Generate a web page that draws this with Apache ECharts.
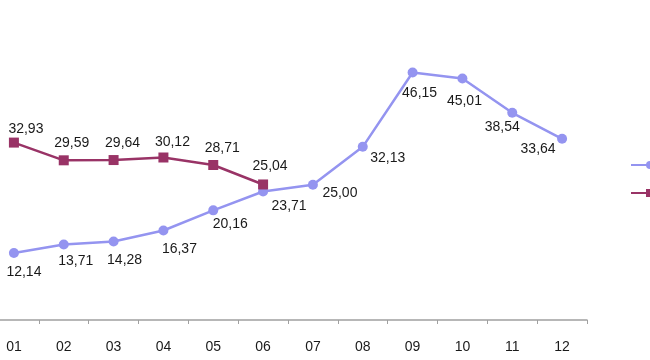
<!DOCTYPE html>
<html>
<head>
<meta charset="utf-8">
<script src="https://cdn.jsdelivr.net/npm/echarts@6/dist/echarts.min.js"></script>
<style>html,body{margin:0;padding:0;background:#fff;}#c{width:650px;height:360px;}</style>
</head>
<body>
<div id="c"></div>
<script>
var categories = ['01','02','03','04','05','06','07','08','09','10','11','12'];
var seriesNames = ['2012','2013'];
var valuesA = [12.14, 13.71, 14.28, 16.37, 20.16, 23.71, 25.00, 32.13, 46.15, 45.01, 38.54, 33.64];
var valuesB = [32.93, 29.59, 29.64, 30.12, 28.71, 25.04];

// label placement (style only)
var offsetsA = [[10,19],[12,17],[11,19],[16,19],[17,14],[26,15],[27,8],[25,11],[7,21],[2,23],[-10,14],[-24,10]];
var offsetsB = [[12,-13],[8,-17],[9,-17],[9,-15],[9,-17],[7,-18]];

function fmt(v){ return v.toFixed(2).replace('.', ','); }
function withLabels(vals, offs){
  return vals.map(function(v,i){
    return {value: v, label: {offset: offs[i]}};
  });
}
var labelBase = {
  show: true, position: 'inside', color: '#1a1a1a',
  fontFamily: 'Liberation Sans, Arial, sans-serif', fontSize: 14,
  formatter: function(p){ return fmt(p.value); }
};

var chart = echarts.init(document.getElementById('c'), null, {renderer: 'canvas'});
chart.setOption({
  animation: false,
  backgroundColor: '#ffffff',
  grid: {left: -11, width: 598, top: 52, bottom: 40, containLabel: false, outerBoundsMode: 'none'},
  legend: {
    orient: 'vertical', left: 625, top: 153,
    itemWidth: 38, itemHeight: 10, itemGap: 14,
    textStyle: {fontSize: 14, color: '#1a1a1a', fontFamily: 'Liberation Sans, Arial, sans-serif'},
    data: seriesNames
  },
  xAxis: {
    type: 'category', data: categories, boundaryGap: true,
    axisLine: {onZero: false, lineStyle: {color: '#a0a0a0', width: 1.5}},
    axisTick: {show: true, length: 4, lineStyle: {color: '#a0a0a0', width: 1}},
    axisLabel: {color: '#1a1a1a', fontSize: 14, margin: 20, fontFamily: 'Liberation Sans, Arial, sans-serif'},
    splitLine: {show: false}
  },
  yAxis: {
    type: 'value', min: -0.5, max: 50,
    show: false, splitLine: {show: false}
  },
  series: [
    {
      name: seriesNames[0], type: 'line', data: withLabels(valuesA, offsetsA),
      symbol: 'circle', symbolSize: 10,
      lineStyle: {color: '#9494F0', width: 2.5},
      itemStyle: {color: '#9494F0'},
      label: labelBase
    },
    {
      name: seriesNames[1], type: 'line', data: withLabels(valuesB, offsetsB),
      symbol: 'rect', symbolSize: 10,
      lineStyle: {color: '#993366', width: 2.5},
      itemStyle: {color: '#993366'},
      label: labelBase
    }
  ]
});
</script>
</body>
</html>
